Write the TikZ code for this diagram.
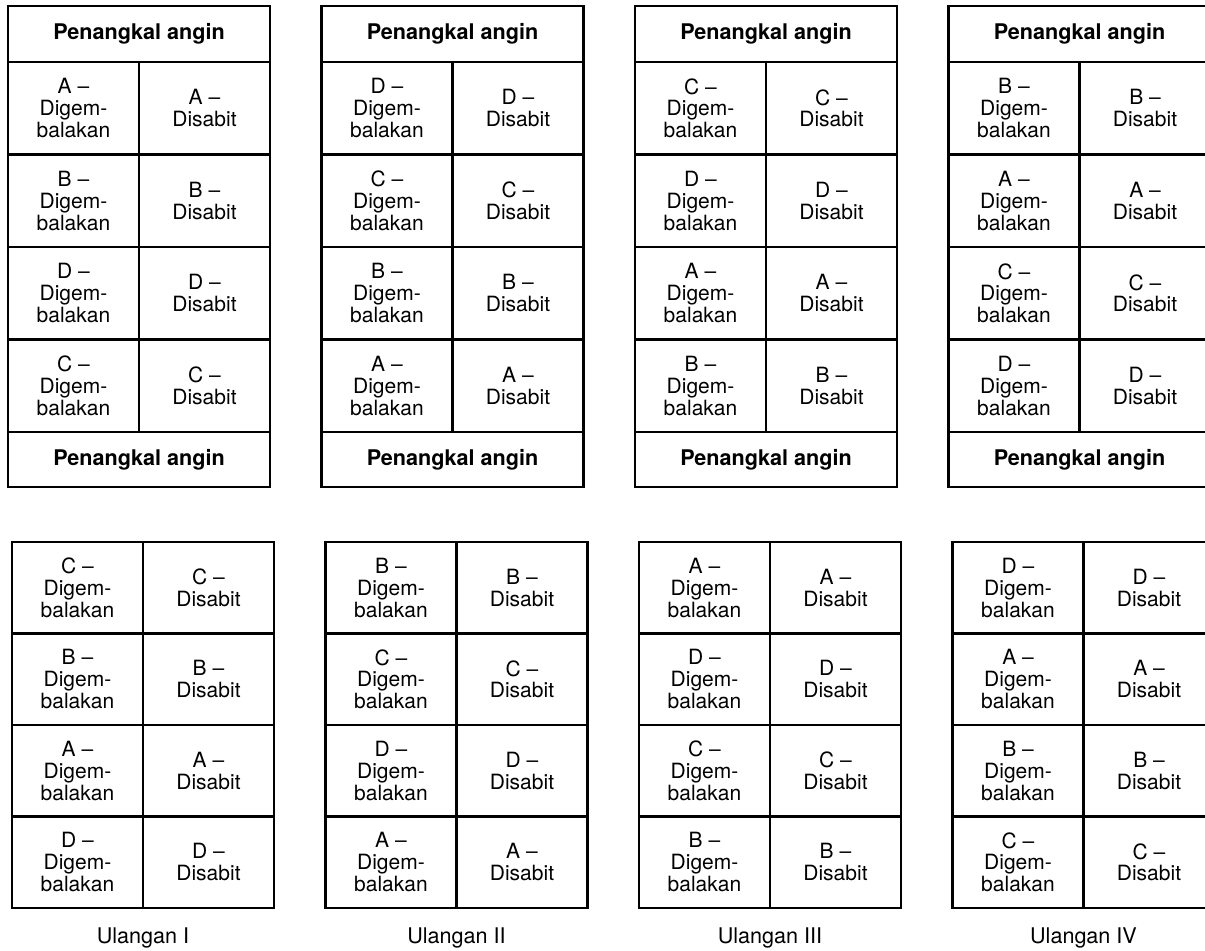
\documentclass[tikz,border=0pt]{standalone}
\usepackage{fontspec}
\setmainfont{TeX Gyre Heros}
\usetikzlibrary{positioning}
\tikzset{
 plot cell/.style={draw,line width=1.3pt,inner sep=0pt,outer sep=0pt,
                   anchor=north west,minimum width=65.5pt,align=center,
                   font=\fontsize{10.5}{10.9}\selectfont},
 plot band/.style={plot cell,minimum width=131pt,minimum height=28pt,
                   font=\fontsize{10.8}{11}\selectfont\bfseries},
 rep label/.style={font=\fontsize{10.8}{11}\selectfont}
}

\begin{document}
\begin{tikzpicture}[x=0.5pt,y=-0.5pt]
 \useasboundingbox (0,0) rectangle (1205,951);

 \foreach \k/\rn/\uprows/\lowrows in
   {1/I/{A,B,D,C}/{C,B,A,D},2/II/{D,C,B,A}/{B,C,D,A},
    3/III/{C,D,A,B}/{A,D,C,B},4/IV/{B,A,C,D}/{D,A,B,C}} {
   % upper block, with wind breaks
   \pgfmathsetmacro\xu{8+313.5*(\k-1)}
   \node[plot band] (up\k h) at (\xu,6) {Penangkal angin};
   \foreach \r [count=\i] in \uprows {
     \pgfmathsetmacro\yu{62+92.5*(\i-1)}
     \node[plot cell,minimum height=46.25pt] (up\k-\i l) at (\xu,\yu)
       {\r\ --\\Digem-\\balakan};
     \node[plot cell,minimum height=46.25pt] (up\k-\i r) at (\xu+131,\yu)
       {\r\ --\\Disabit};
   }
   \node[plot band,minimum height=27.5pt] (up\k f) at (\xu,432) {Penangkal angin};

   % lower block
   \pgfmathsetmacro\xl{12+313.5*(\k-1)}
   \foreach \r [count=\i] in \lowrows {
     \pgfmathsetmacro\yl{542+91.5*(\i-1)}
     \node[plot cell,minimum height=45.75pt] (lo\k-\i l) at (\xl,\yl)
       {\r\ --\\Digem-\\balakan};
     \node[plot cell,minimum height=45.75pt] (lo\k-\i r) at (\xl+131,\yl)
       {\r\ --\\Disabit};
   }
   \node[rep label] (lab\k) at (\xl+131,938) {Ulangan \rn};
 }
\end{tikzpicture}
\end{document}
